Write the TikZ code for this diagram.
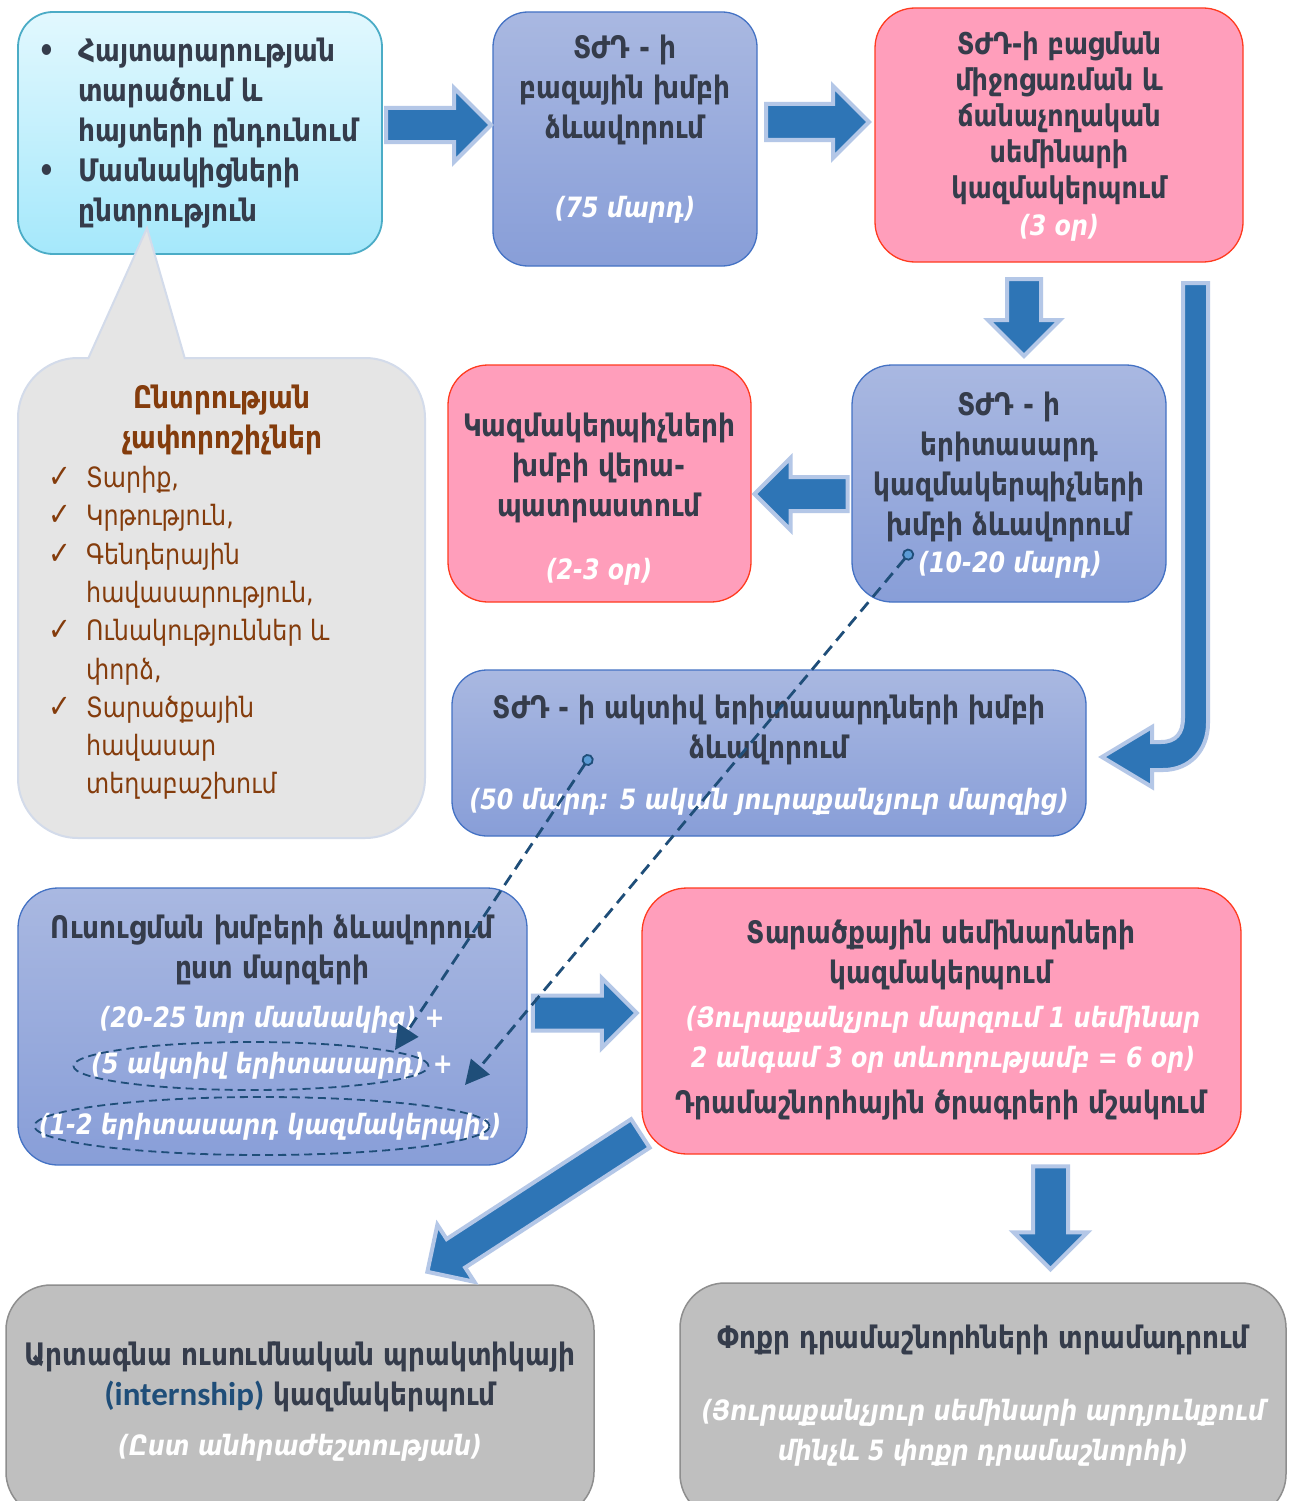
\documentclass[tikz,border=0pt]{standalone}
\usepackage{fontspec}
\setmainfont{DejaVu Sans}[FakeStretch=0.85]
\newfontfamily\lat{Carlito}
\usetikzlibrary{shapes.arrows,shapes.geometric,arrows.meta}
\definecolor{dk}{HTML}{353C4B}
\definecolor{brn}{HTML}{843C0C}
\definecolor{afill}{HTML}{2E75B6}
\definecolor{aline}{HTML}{B4C7E7}
\definecolor{btop}{HTML}{A9B8E1}
\definecolor{bbot}{HTML}{889ED8}
\definecolor{bbord}{HTML}{4472C4}
\definecolor{pfill}{HTML}{FF9EBB}
\definecolor{pbord}{HTML}{FF3B1F}
\definecolor{ctop}{HTML}{E2F8FE}
\definecolor{cbot}{HTML}{A5E8FB}
\definecolor{cbord}{HTML}{4BACC6}
\definecolor{gB}{HTML}{E5E5E5}
\definecolor{gBbord}{HTML}{D3DBEA}
\definecolor{gD}{HTML}{BFBFBF}
\definecolor{gDbord}{HTML}{8E8E8E}
\definecolor{dsh}{HTML}{1F4E79}
\definecolor{dcirc}{HTML}{5B9BD5}
\tikzset{
  bluebox/.style={rectangle, draw=bbord, line width=1.3pt, top color=btop, bottom color=bbot, rounded corners=35pt},
  pinkbox/.style={rectangle, draw=pbord, line width=1.3pt, fill=pfill, rounded corners=40pt},
  cyanbox/.style={rectangle, draw=cbord, line width=1.8pt, top color=ctop, bottom color=cbot, rounded corners=35pt},
  graybox/.style={rectangle, draw=gDbord, line width=1.5pt, fill=gD, rounded corners=45pt},
  fatarrow/.style={single arrow, draw=aline, fill=afill, line width=4pt, inner xsep=0pt, single arrow tip angle=90},
  fatdown/.style={single arrow, shape border rotate=270, draw=aline, fill=afill, line width=4pt, inner ysep=0pt, single arrow tip angle=90},
  tb/.style={align=center, text=dk, inner sep=0pt, font=\bfseries\fontsize{31}{40}\selectfont},
  ti/.style={align=center, text=white, inner sep=0pt, font=\bfseries\itshape\fontsize{28}{40}\selectfont},
  dconn/.style={draw=dsh, line width=2.8pt, dash pattern=on 12pt off 7pt, {Circle[fill=dcirc,length=12pt,width=12pt,line width=1.8pt]}-{Triangle[length=24pt,width=24pt]}},
  dell/.style={ellipse, draw=dsh, line width=1.8pt, dash pattern=on 8pt off 5pt, inner sep=0pt}
}
\begin{document}
\begin{tikzpicture}[x=1pt,y=-1pt]
\path[use as bounding box] (0,0) rectangle (1289,1501);
\clip (0,0) rectangle (1289,1501);
\fill[white] (0,0) rectangle (1289,1501);

% boxes
\node[cyanbox, minimum width=364, minimum height=242] (A) at (200,133) {};
\node[rectangle, draw=gBbord, line width=2pt, fill=gB, rounded corners=60pt, minimum width=407, minimum height=480] (B) at (221.5,598) {};
\fill[gB] (88,360) -- (147,228) -- (185,360) -- cycle;
\draw[gBbord, line width=2pt] (88,359) -- (147,228) -- (185,359);
\node[bluebox, minimum width=264, minimum height=254] (C) at (625,139) {};
\node[pinkbox, minimum width=368, minimum height=254] (D) at (1059,135) {};
\node[pinkbox, minimum width=303, minimum height=237] (E) at (599.5,483.5) {};
\node[bluebox, rounded corners=40pt, minimum width=314, minimum height=237] (F) at (1009,483.5) {};
\node[bluebox, minimum width=634, minimum height=166] (G) at (769,753) {};
\node[bluebox, rounded corners=40pt, minimum width=509, minimum height=277] (H) at (272.5,1026.5) {};
\node[pinkbox, rounded corners=45pt, minimum width=599, minimum height=266] (I) at (941.5,1021) {};
\node[graybox, minimum width=588, minimum height=232] (J) at (300,1401) {};
\node[graybox, minimum width=606, minimum height=236] (K) at (983,1401) {};

% fat arrows
\node[fatarrow, minimum height=105, inner ysep=15pt, single arrow head extend=20pt] (a1) at (430,125) {};
\node[fatarrow, minimum height=103, inner ysep=16pt, single arrow head extend=18pt] (a2) at (808.5,122) {};
\node[fatdown, minimum height=77, inner xsep=15pt, single arrow head extend=19pt] (a3) at (1024,309) {};
\node[fatarrow, shape border rotate=180, minimum height=93, inner ysep=15pt, single arrow head extend=19pt] (a4) at (809.5,494) {};
\node[fatarrow, minimum height=104, inner ysep=15.5pt, single arrow head extend=17.5pt] (a5) at (576,1013) {};
\node[fatdown, minimum height=103, inner xsep=15.5pt, single arrow head extend=19.5pt] (a6) at (1050.5,1209) {};
\node[fatarrow, rotate=213, minimum height=254, inner ysep=15pt, single arrow head extend=17pt] (a7) at (541,1198) {};
\filldraw[fill=afill, draw=aline, line width=4pt] (1183,283) -- (1183,718) .. controls (1183,733) and (1176,742) .. (1161,742) -- (1152,742) -- (1152,727) -- (1102,757) -- (1152,787) -- (1152,770) -- (1163,770) .. controls (1190,770) and (1208,750) .. (1208,723) -- (1208,283) -- cycle;

% texts
\node[tb, anchor=west, align=left] (At) at (38,133) {\makebox[40pt][l]{•}Հայտարարության\\\hspace*{40pt}տարածում և\\\hspace*{40pt}հայտերի ընդունում\\\makebox[40pt][l]{•}Մասնակիցների\\\hspace*{40pt}ընտրություն};
\node[tb, text=brn] (Bt) at (222,420) {Ընտրության\\չափորոշիչներ};
\node[anchor=west, align=left, text=brn, inner sep=0pt, font=\fontsize{28}{38.3}\selectfont] (Bl) at (48,633) {\makebox[38pt][l]{\fontsize{32}{38}\selectfont✓}Տարիք,\\\makebox[38pt][l]{\fontsize{32}{38}\selectfont✓}Կրթություն,\\\makebox[38pt][l]{\fontsize{32}{38}\selectfont✓}Գենդերային\\\hspace*{38pt}հավասարություն,\\\makebox[38pt][l]{\fontsize{32}{38}\selectfont✓}Ունակություններ և\\\hspace*{38pt}փորձ,\\\makebox[38pt][l]{\fontsize{32}{38}\selectfont✓}Տարածքային\\\hspace*{38pt}հավասար\\\hspace*{38pt}տեղաբաշխում};
\node[tb] (Ct) at (625,90) {ՏԺԴ - ի\\բազային խմբի\\ձևավորում};
\node[ti] (Ci) at (625,210) {(75 մարդ)};
\node[tb, font=\bfseries\fontsize{30}{36}\selectfont] (Dt) at (1059,118) {ՏԺԴ-ի բացման\\միջոցառման և\\ճանաչողական\\սեմինարի\\կազմակերպում};
\node[ti] (Di) at (1059,228) {(3 օր)};
\node[tb] (Et) at (599,468) {Կազմակերպիչների\\խմբի վերա-\\պատրաստում};
\node[ti] (Ei) at (599,572) {(2-3 օր)};
\node[tb] (Ft) at (1009,467) {ՏԺԴ - ի\\երիտասարդ\\կազմակերպիչների\\խմբի ձևավորում};
\node[ti] (Fi) at (1010,565) {(10-20 մարդ)};
\node[tb] (Gt) at (769,730) {ՏԺԴ - ի ակտիվ երիտասարդների խմբի\\ձևավորում};
\node[ti] (Gi) at (769,802) {(50 մարդ: 5 ական յուրաքանչյուր մարզից)};
\node[tb] (Ht) at (272,950) {Ուսուցման խմբերի ձևավորում\\ըստ մարզերի};
\node[ti] (Hi1) at (272,1020) {(20-25 նոր մասնակից) +};
\node[ti] (Hi2) at (272,1066) {(5 ակտիվ երիտասարդ) +};
\node[ti] (Hi3) at (270,1127) {(1-2 երիտասարդ կազմակերպիչ)};
\node[dell, minimum width=355, minimum height=48] (e1) at (251,1066) {};
\node[dell, minimum width=455, minimum height=58] (e2) at (262,1126) {};
\node[tb] (It) at (941,955) {Տարածքային սեմինարների\\կազմակերպում};
\node[ti] (Ii) at (943,1040) {(Յուրաքանչյուր մարզում 1 սեմինար\\2 անգամ 3 օր տևողությամբ = 6 օր)};
\node[tb] (It2) at (941,1105) {Դրամաշնորհային ծրագրերի մշակում};
\node[tb] (Jt) at (300,1377) {Արտագնա ուսումնական պրակտիկայի\\{\lat\bfseries\fontsize{33}{40}\selectfont\color{dsh}(internship)} կազմակերպում};
\node[ti] (Ji) at (300,1448) {(Ըստ անհրաժեշտության)};
\node[tb] (Kt) at (983,1340) {Փոքր դրամաշնորհների տրամադրում};
\node[ti] (Ki) at (983,1433) {(Յուրաքանչյուր սեմինարի արդյունքում\\մինչև 5 փոքր դրամաշնորհի)};

% dashed connectors
\coordinate (d1s) at (591,755);
\coordinate (d1e) at (395,1050);
\coordinate (d2s) at (912,550);
\coordinate (d2e) at (465,1085);
\draw[dconn] (d1s) -- (d1e);
\draw[dconn] (d2s) -- (d2e);
\end{tikzpicture}
\end{document}
